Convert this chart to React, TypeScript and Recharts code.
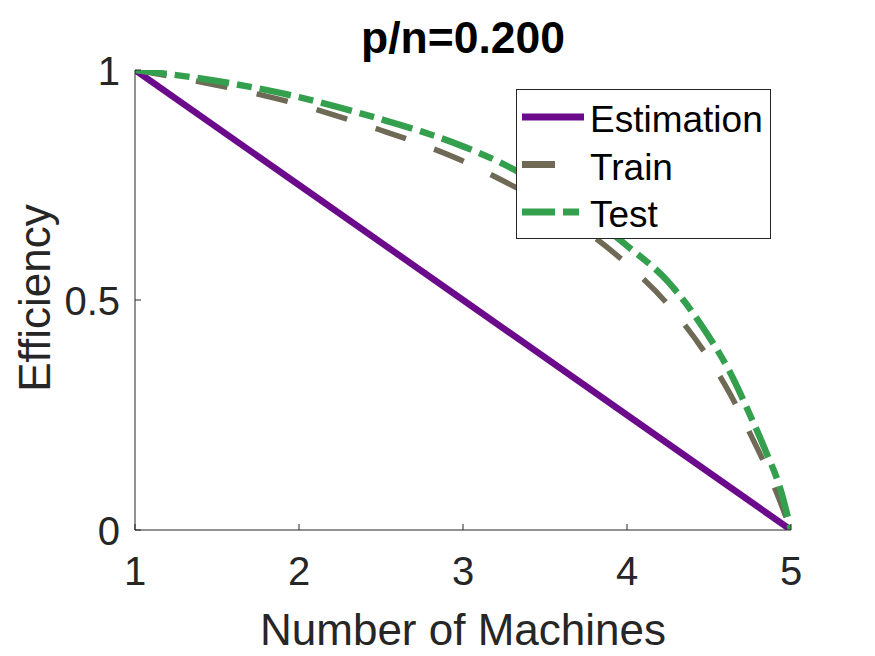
import { Label, Legend, Line, LineChart, XAxis, YAxis } from "recharts";

const FONT = "'Liberation Sans', Arial, Helvetica, sans-serif";
const AXIS = "#262626";

const ESTIMATION = "#6b0b8b";
const TRAIN = "#6e6a55";
const TEST = "#34a04e";

// values
const estX = [1, 2, 3, 4, 5];
const estY = [1, 0.75, 0.5, 0.25, 0];

const curveX = [1, 1.5, 2, 2.25, 2.5, 2.75, 3, 3.25, 3.5, 3.75, 4, 4.25, 4.5, 4.625, 4.75, 4.85, 4.93, 5];
const trainY = [1, 0.967, 0.925, 0.898, 0.869, 0.838, 0.802, 0.758, 0.71, 0.65, 0.578, 0.49, 0.372, 0.298, 0.21, 0.135, 0.065, 0];
const testY = [1, 0.976, 0.941, 0.918, 0.893, 0.866, 0.834, 0.795, 0.745, 0.688, 0.618, 0.54, 0.42, 0.345, 0.25, 0.168, 0.095, 0];

const xTicks = [1, 2, 3, 4, 5];
const yTicks = [0, 0.5, 1];

const estData = estX.map((m, i) => ({ m, v: estY[i] }));
const trainData = curveX.map((m, i) => ({ m, v: trainY[i] }));
const testData = curveX.map((m, i) => ({ m, v: testY[i] }));

const legendItems = [
  { name: "Estimation", color: ESTIMATION, dash: undefined as string | undefined, width: 62 },
  { name: "Train", color: TRAIN, dash: "33 30", width: 62 },
  { name: "Test", color: TEST, dash: "33 8 16 8", width: 57 },
];

function XTick({ x, y, payload }: any) {
  return (
    <g>
      <line x1={x} x2={x} y1={y} y2={y - 6} stroke={AXIS} />
      <text x={x} y={y + 55} textAnchor="middle" fontSize={40} fontFamily={FONT} fill={AXIS}>
        {payload.value}
      </text>
    </g>
  );
}

function YTick({ x, y, payload }: any) {
  return (
    <g>
      <line x1={x} x2={x + 6} y1={y} y2={y} stroke={AXIS} />
      <text x={x - 15} y={y + 14.5} textAnchor="end" fontSize={40} fontFamily={FONT} fill={AXIS}>
        {payload.value}
      </text>
    </g>
  );
}

function LegendBox() {
  return (
    <svg width={256} height={151} style={{ display: "block" }}>
      <rect x={0.5} y={0.5} width={254} height={149} fill="#fff" stroke={AXIS} />
      {legendItems.map((it, i) => (
        <g key={it.name}>
          <line
            x1={6}
            x2={6 + it.width}
            y1={28 + i * 47.5}
            y2={28 + i * 47.5}
            stroke={it.color}
            strokeWidth={7}
            strokeDasharray={it.dash}
          />
          <text x={74} y={43 + i * 47.5} fontSize={37} fontFamily={FONT} fill="#000">
            {it.name}
          </text>
        </g>
      ))}
    </svg>
  );
}

export default function App() {
  return (
    <div style={{ position: "absolute", left: 0, top: 0, width: 875, height: 656, background: "#fff" }}>
      <LineChart width={875} height={656} margin={{ top: 70, right: 84, bottom: 0, left: 0 }}>
        <XAxis
          type="number"
          dataKey="m"
          domain={[1, 5]}
          ticks={xTicks}
          allowDataOverflow
          height={126}
          tickLine={false}
          tickSize={0}
          tickMargin={0}
          tick={<XTick />}
          stroke={AXIS}
        >
          <Label
            content={() => (
              <text x={463} y={645} textAnchor="middle" fontSize={44} fontFamily={FONT} fill={AXIS}>
                Number of Machines
              </text>
            )}
          />
        </XAxis>
        <YAxis
          type="number"
          domain={[0, 1]}
          ticks={yTicks}
          allowDataOverflow
          width={135}
          tickLine={false}
          tickSize={0}
          tickMargin={0}
          tick={<YTick />}
          stroke={AXIS}
        >
          <Label
            content={() => (
              <text
                x={50}
                y={298}
                transform="rotate(-90 50 298)"
                textAnchor="middle"
                fontSize={44}
                fontFamily={FONT}
                fill={AXIS}
              >
                Efficiency
              </text>
            )}
          />
        </YAxis>
        <text x={463} y={53} textAnchor="middle" fontSize={44.5} fontWeight="bold" fontFamily={FONT} fill="#000">
          p/n=0.200
        </text>
        <Line
          data={estData}
          dataKey="v"
          type="linear"
          stroke={ESTIMATION}
          strokeWidth={6.5}
          dot={false}
          isAnimationActive={false}
        />
        <Line
          data={trainData}
          dataKey="v"
          type="monotone"
          stroke={TRAIN}
          strokeWidth={5.5}
          strokeDasharray="32 30"
          dot={false}
          isAnimationActive={false}
        />
        <Line
          data={testData}
          dataKey="v"
          type="monotone"
          stroke={TEST}
          strokeWidth={6.5}
          strokeDasharray="32 8 15 8"
          dot={false}
          isAnimationActive={false}
        />
        <Legend
          layout="vertical"
          align="center"
          verticalAlign="middle"
          content={() => <LegendBox />}
          wrapperStyle={{ left: 516, top: 89, width: 256, height: 151 }}
        />
      </LineChart>
    </div>
  );
}
